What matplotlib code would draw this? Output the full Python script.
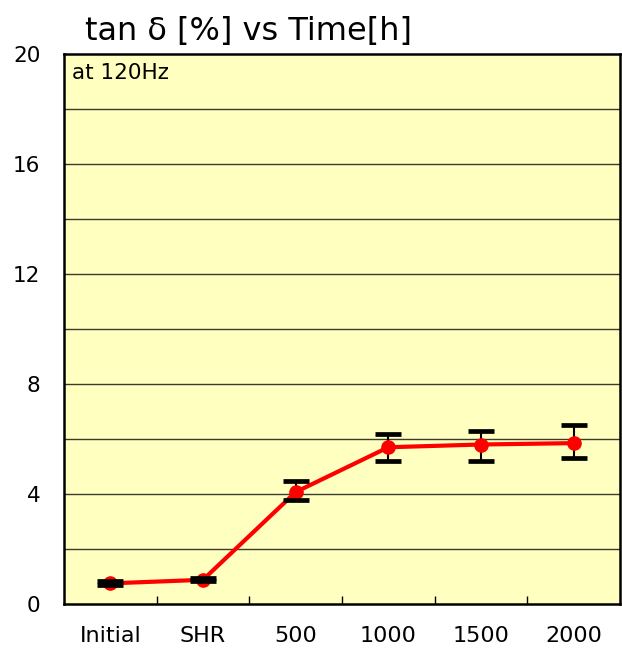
import matplotlib
matplotlib.use("Agg")
import matplotlib.pyplot as plt
import numpy as np

plt.rcParams['font.family'] = ['DejaVu Sans']

categories = ["Initial", "SHR", "500", "1000", "1500", "2000"]
values = [0.75, 0.88, 4.07, 5.7, 5.8, 5.85]
err_low = [0.07, 0.06, 0.27, 0.5, 0.6, 0.55]
err_high = [0.07, 0.06, 0.4, 0.48, 0.5, 0.65]
yticks = [0, 4, 8, 12, 16, 20]

fig = plt.figure(figsize=(6.22, 6.49), dpi=100)
ax = fig.add_axes([64/622, 45/649, 556/622, 550/649])
ax.set_facecolor('#FFFFC0')

x = np.arange(len(categories))
ax.set_xlim(-0.5, len(categories) - 0.5)
ax.set_ylim(0, 20)

for yv in np.arange(2, 20, 2):
    ax.axhline(yv, color='#3a3a30', lw=1.0, zorder=1)

eb = ax.errorbar(x, values, yerr=[err_low, err_high], fmt='none', ecolor='black',
                 elinewidth=1.5, capsize=9.7, capthick=3.4, zorder=3)
for cl in eb[1]:
    cl.set_zorder(6)
ax.plot(x, values, color='red', lw=3.0, marker='o', ms=9.5, zorder=4)

ax.set_yticks(yticks)
ax.set_yticklabels([str(v) for v in yticks], fontsize=15.5)
ax.tick_params(axis='y', length=0, pad=17)

ax.set_xticks(x)
ax.set_xticklabels(categories, fontsize=16)
ax.tick_params(axis='x', which='major', length=0, pad=16)
ax.set_xticks(np.arange(0.5, len(categories) - 0.5, 1), minor=True)
ax.tick_params(axis='x', which='minor', direction='in', length=6, width=1, color='black')

for s in ax.spines.values():
    s.set_linewidth(1.8)
    s.set_color('black')

ax.text(0.015, 0.984, "at 120Hz", transform=ax.transAxes, fontsize=15.5,
        va='top', ha='left')
fig.text(85/622, 1 - 40/649, "tan δ [%] vs Time[h]", fontsize=23, ha='left', va='baseline')

fig.savefig("out.png", dpi=100)
